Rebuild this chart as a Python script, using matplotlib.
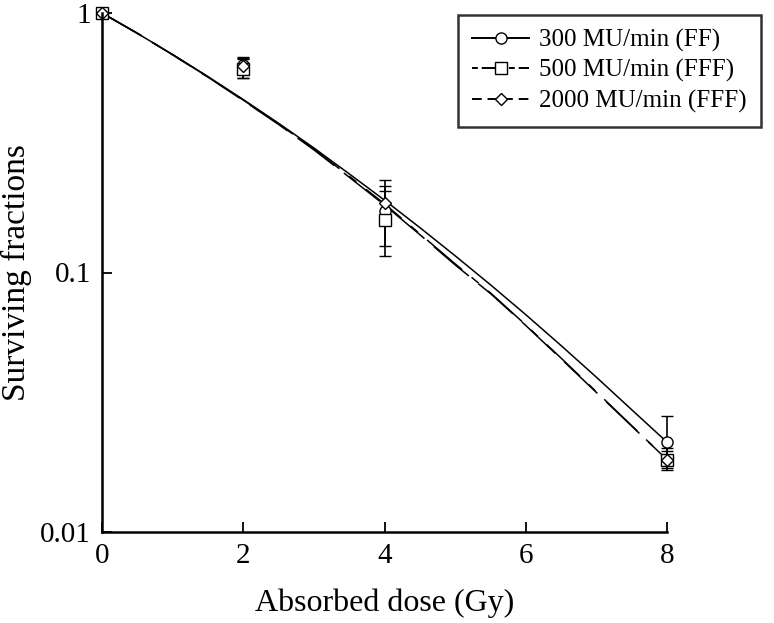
import matplotlib
matplotlib.use("Agg")
import matplotlib.pyplot as plt
from matplotlib.ticker import FixedLocator, NullLocator, FixedFormatter

plt.rcParams['font.family'] = ['Liberation Serif', 'DejaVu Serif']

# measured points
dose_pts = [0, 2, 4, 8]
ff_sf = [1.0, 0.63, 0.172, 0.0222]
ff_err_lo = [0.0, 0.07, 0.045, 0.004]
ff_err_hi = [0.0, 0.047, 0.056, 0.0058]
fff500_sf = [1.0, 0.61, 0.160, 0.0190]
fff500_err_lo = [0.0, 0.05, 0.044, 0.0016]
fff500_err_hi = [0.0, 0.06, 0.047, 0.0020]
fff2000_sf = [1.0, 0.625, 0.186, 0.0190]
fff2000_err_lo = [0.0, 0.04, 0.03, 0.0014]
fff2000_err_hi = [0.0, 0.04, 0.03, 0.0015]

# fitted curves
dose_fit = [0, 0.5, 1, 1.5, 2, 2.5, 3, 3.5, 4, 4.5, 5, 5.5, 6, 6.5, 7, 7.5, 8]
ff_fit = [1.0, 0.835, 0.692, 0.569, 0.464, 0.376, 0.302, 0.240, 0.190, 0.149,
          0.116, 0.0897, 0.0688, 0.0523, 0.0395, 0.0296, 0.0222]
fff500_fit = [1.0, 0.835, 0.690, 0.566, 0.460, 0.372, 0.297, 0.233, 0.182, 0.140,
              0.107, 0.083, 0.0625, 0.0465, 0.0345, 0.0256, 0.0190]
fff2000_fit = [1.0, 0.836, 0.691, 0.567, 0.462, 0.374, 0.299, 0.235, 0.184, 0.141,
               0.108, 0.0835, 0.0628, 0.0468, 0.0347, 0.0257, 0.0190]

xticks = [0, 2, 4, 6, 8]
yticks = [0.01, 0.1, 1]
ytick_labels = ['0.01', '0.1', '1']
legend_labels = ['300 MU/min (FF)', '500 MU/min (FFF)', '2000 MU/min (FFF)']

fig = plt.figure(figsize=(7.74, 6.23), dpi=100)
ax = fig.add_axes([102/774, 1-532/623, (667-102)/774, (532-13)/623])
ax.set_yscale('log')
ax.set_xlim(0, 8)
ax.set_ylim(0.01, 1)

lw = 1.1
# fit curves
ax.plot(dose_fit, ff_fit, color='black', lw=lw, ls='-', clip_on=False)
ax.plot(dose_fit, fff500_fit, color='black', lw=lw, dashes=(30, 8), clip_on=False)
ax.plot(dose_fit, fff2000_fit, color='black', lw=lw, dashes=(30, 8, 6, 8), clip_on=False)

ms = 8
ax.errorbar(dose_pts, ff_sf, yerr=[ff_err_lo, ff_err_hi], fmt='o', mfc='white',
            mec='black', color='black', ms=ms, capsize=4, elinewidth=1.2, clip_on=False)
ax.errorbar(dose_pts, fff500_sf, yerr=[fff500_err_lo, fff500_err_hi], fmt='s', mfc='white',
            mec='black', color='black', ms=ms, capsize=4, elinewidth=1.2, clip_on=False)
ax.errorbar(dose_pts, fff2000_sf, yerr=[fff2000_err_lo, fff2000_err_hi], fmt='D', mfc='white',
            mec='black', color='black', ms=ms-2, capsize=4, elinewidth=1.2, clip_on=False)

# legend handles
h1, = ax.plot([], [], color='black', lw=1.4, ls='-', marker='o', mfc='white', mec='black', ms=8)
h2, = ax.plot([], [], color='black', lw=1.4, dashes=(3, 2, 12, 2), marker='s', mfc='white', mec='black', ms=8)
h3, = ax.plot([], [], color='black', lw=1.4, dashes=(5, 3), marker='D', mfc='white', mec='black', ms=6)
leg = fig.legend([h1, h2, h3], legend_labels, loc='upper left',
                 bbox_to_anchor=(458/774, 1-15/623), borderaxespad=0, fontsize=18,
                 frameon=True, fancybox=False, edgecolor='black', handlelength=2.3,
                 borderpad=0.55, labelspacing=0.3, handletextpad=0.4)
leg.get_frame().set_linewidth(1.8)

for s in ['top', 'right']:
    ax.spines[s].set_visible(False)
for s in ['left', 'bottom']:
    ax.spines[s].set_linewidth(1.8)

ax.xaxis.set_major_locator(FixedLocator(xticks))
ax.yaxis.set_major_locator(FixedLocator(yticks))
ax.yaxis.set_major_formatter(FixedFormatter(ytick_labels))
ax.yaxis.set_minor_locator(NullLocator())
ax.tick_params(axis='both', which='major', direction='in', length=7, width=1.3,
               labelsize=21, pad=8)

ax.set_xlabel('Absorbed dose (Gy)', fontsize=23, labelpad=14)
ax.set_ylabel('Surviving fractions', fontsize=24, labelpad=6)

fig.savefig('out.png', dpi=100)
